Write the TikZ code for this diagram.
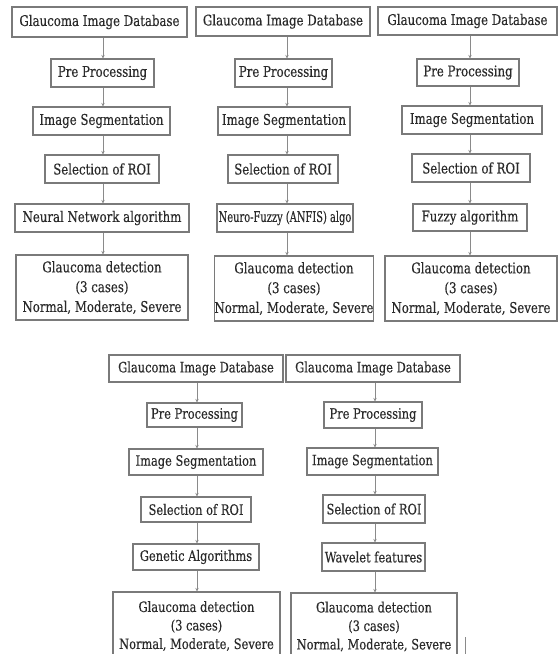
\documentclass[tikz,border=0pt]{standalone}
\usepackage{fontspec}
\usepackage{graphicx}
\setmainfont[FakeStretch=0.80,FakeBold=0.25]{DejaVu Serif}
\usetikzlibrary{arrows.meta}
\definecolor{bordergray}{HTML}{7A7A7A}
\definecolor{linegray}{HTML}{8A8A8A}
\definecolor{txtgray}{HTML}{2A2A2A}
\tikzset{
  gb/.style={draw=bordergray, line width=1.1pt, fill=white, inner sep=0pt,
    text=txtgray, align=center, font=\fontsize{14.7}{19.8}\selectfont},
  gbs/.style={gb, font=\fontsize{14.3}{18.5}\selectfont},
  arr/.style={draw=linegray, line width=0.7pt, -{Stealth[length=3.5pt,width=3.5pt]}},
}
\newcommand{\gbox}[7][gb]{%
  \node[#1, minimum width={(#4-#3)*1pt}, minimum height={(#6-#5)*1pt}]
    (#2) at ({(#3+#4)/2},{(#5+#6)/2}) {#7};}
\begin{document}
\begin{tikzpicture}[x=1pt,y=-1pt]
\fill[white] (0,0) rectangle (559,654);
\useasboundingbox (0,0) rectangle (559,654);
\clip (0,0) rectangle (559,654);
% column x for connectors
\coordinate (c1) at (103,0);
\coordinate (c2) at (287,0);
\coordinate (c3) at (470,0);
\coordinate (c4) at (197,0);
\coordinate (c5) at (375,0);
% column 1
\gbox{db1}{12}{187}{7}{37}{Glaucoma Image Database}
\gbox{pp1}{51}{154}{59}{87}{Pre Processing}
\gbox{is1}{33}{170}{107}{135}{Image Segmentation}
\gbox{roi1}{45}{159}{155}{183}{Selection of ROI}
\gbox{al1}{15}{189}{204}{232}{Neural Network algorithm}
\gbox{gd1}{16}{188}{255}{320}{Glaucoma detection\\(3 cases)\\Normal, Moderate, Severe}
% column 2
\gbox{db2}{196}{370}{7}{36}{Glaucoma Image Database}
\gbox{pp2}{235}{332}{59}{87}{Pre Processing}
\gbox{is2}{218}{350}{107}{135}{Image Segmentation}
\gbox{roi2}{228}{338}{155}{183}{Selection of ROI}
\gbox{al2}{217}{353}{204}{232}{\scalebox{0.84}[1]{Neuro-Fuzzy (ANFIS) algo}}
\gbox{gd2}{215}{373}{256}{321}{Glaucoma detection\\(3 cases)\\Normal, Moderate, Severe}
% column 3
\gbox{db3}{378}{557}{7}{35}{Glaucoma Image Database}
\gbox{pp3}{417}{519}{59}{86}{Pre Processing}
\gbox{is3}{402}{542}{106}{134}{Image Segmentation}
\gbox{roi3}{412}{530}{154}{182}{Selection of ROI}
\gbox{al3}{413}{527}{204}{231}{Fuzzy algorithm}
\gbox{gd3}{385}{557}{256}{321}{Glaucoma detection\\(3 cases)\\Normal, Moderate, Severe}
% column 4
\gbox[gbs]{db4}{109}{283}{355}{382}{Glaucoma Image Database}
\gbox[gbs]{pp4}{147}{242}{403}{427}{Pre Processing}
\gbox[gbs]{is4}{129}{263}{449}{475}{Image Segmentation}
\gbox[gbs]{roi4}{141}{251}{497}{522}{Selection of ROI}
\gbox[gbs]{al4}{133}{259}{544}{570}{Genetic Algorithms}
\gbox[gbs]{gd4}{113}{280}{592}{660}{Glaucoma detection\\(3 cases)\\Normal, Moderate, Severe}
% column 5
\gbox[gbs]{db5}{286}{460}{355}{382}{Glaucoma Image Database}
\gbox[gbs]{pp5}{324}{422}{402}{428}{Pre Processing}
\gbox[gbs]{is5}{307}{438}{448}{475}{Image Segmentation}
\gbox[gbs]{roi5}{323}{425}{495}{523}{Selection of ROI}
\gbox[gbs]{al5}{322}{425}{543}{571}{Wavelet features}
\gbox[gbs]{gd5}{291}{457}{593}{660}{Glaucoma detection\\(3 cases)\\Normal, Moderate, Severe}
% connectors
\foreach \c in {1,...,5}{
  \draw[arr] (db\c.south -| c\c) -- (pp\c.north -| c\c);
  \draw[arr] (pp\c.south -| c\c) -- (is\c.north -| c\c);
  \draw[arr] (is\c.south -| c\c) -- (roi\c.north -| c\c);
  \draw[arr] (roi\c.south -| c\c) -- (al\c.north -| c\c);
  \draw[arr] (al\c.south -| c\c) -- (gd\c.north -| c\c);
}
% stray mark
\coordinate (s1) at (465,637);
\coordinate (s2) at (465,654);
\draw[draw=linegray, line width=0.7pt] (s1) -- (s2);
\end{tikzpicture}
\end{document}
